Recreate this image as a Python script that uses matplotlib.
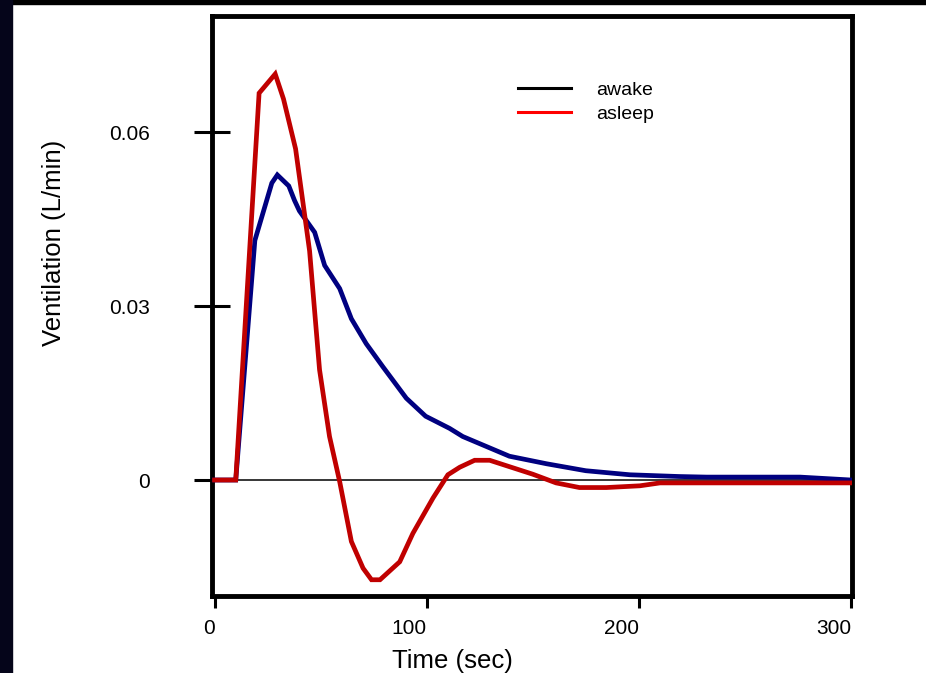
import matplotlib
matplotlib.use("Agg")
import matplotlib.pyplot as plt
from matplotlib.lines import Line2D
from matplotlib.patches import Rectangle

plt.rcParams['font.family'] = ['Liberation Sans', 'DejaVu Sans']

# ---- data ----
t_awake = [0, 10, 19, 27, 29.6, 35, 37.7, 40, 47.2, 51.9, 59, 64.5, 71.5,
           79.4, 90.4, 99.5, 110.8, 117, 139, 156.5, 175, 195.8, 219, 232,
           276, 300]
v_awake = [0, 0, 0.0413, 0.0512, 0.0526, 0.0507, 0.0482, 0.0464, 0.0427,
           0.0370, 0.0330, 0.0278, 0.0235, 0.0195, 0.0141, 0.0110, 0.0089,
           0.0075, 0.0041, 0.0028, 0.0016, 0.0009, 0.0006, 0.0005, 0.0005,
           0.0]

t_asleep = [0, 10, 21, 28.6, 32.5, 38.2, 44.8, 49.5, 54.2, 59, 64.5, 70,
            74, 78, 87.3, 93.5, 103, 110, 115.6, 122.6, 129.7, 139, 150,
            161, 172, 184.7, 200.5, 210, 300]
v_asleep = [0, 0, 0.0667, 0.0700, 0.0657, 0.0571, 0.0395, 0.0190, 0.0075,
            -0.0003, -0.0106, -0.0152, -0.0172, -0.0172, -0.0141, -0.0092,
            -0.0031, 0.0009, 0.0022, 0.0034, 0.0034, 0.0023, 0.0010, -0.0005,
            -0.0013, -0.0013, -0.0010, -0.0005, -0.0005]

x_ticks = [0, 100, 200, 300]
x_ticklabels = ["0", "100", "200", "300"]
y_ticks = [0, 0.03, 0.06]
y_ticklabels = ["0", "0.03", "0.06"]
legend_labels = ["awake", "asleep"]

# ---- figure ----
W, H = 926, 673
fig = plt.figure(figsize=(W / 100, H / 100), dpi=100, facecolor='white')
ax = fig.add_axes([212 / W, 1 - 596 / H, (852 - 212) / W, (596 - 16) / H])

# decorative frame strips of the original slide
fig.add_artist(Rectangle((0, 1 - 4 / H), 1, 4 / H, transform=fig.transFigure,
                         color='black', zorder=10))
fig.add_artist(Rectangle((0, 0), 12 / W, 1, transform=fig.transFigure,
                         color='#05051a', zorder=10))

ax.axhline(0, color='black', lw=1.1, zorder=1)
ax.plot(t_awake, v_awake, color='#000080', lw=3.4, zorder=3,
        solid_joinstyle='miter')
ax.plot(t_asleep, v_asleep, color='#c00000', lw=3.4, zorder=4,
        solid_joinstyle='miter')

ax.set_xlim(-1.2, 300.5)
ax.set_ylim(-0.02, 0.08)

for s in ax.spines.values():
    s.set_linewidth(3.5)
    s.set_color('black')

ax.set_xticks(x_ticks)
ax.set_xticklabels(x_ticklabels, ha='right')
ax.set_yticks(y_ticks)
ax.set_yticklabels(y_ticklabels)
ax.tick_params(axis='x', direction='out', length=8.5, width=2.2, pad=8,
               labelsize=15)
ax.tick_params(axis='y', direction='inout', length=26, width=2.2, pad=32,
               labelsize=15)

ax.set_xlabel("Time (sec)", fontsize=18.5)
ax.xaxis.label.set_va('center')
ax.xaxis.set_label_coords(0.375, -(661 - 596) / 580)
ax.set_ylabel("Ventilation (L/min)", fontsize=18.5)
ax.yaxis.label.set_va('center')
ax.yaxis.set_label_coords((54 - 212) / 640, (596 - 243) / 580)

handles = [Line2D([], [], color='black', lw=2.2),
           Line2D([], [], color='#ff0000', lw=2.2)]
ax.legend(handles, legend_labels, loc='upper left',
          bbox_to_anchor=((518 - 212) / 640, (596 - 81) / 580),
          frameon=False, fontsize=14, handlelength=2.7, handletextpad=1.3,
          labelspacing=0.33, borderpad=0, borderaxespad=0)

fig.savefig("out.png", dpi=100, facecolor='white')
